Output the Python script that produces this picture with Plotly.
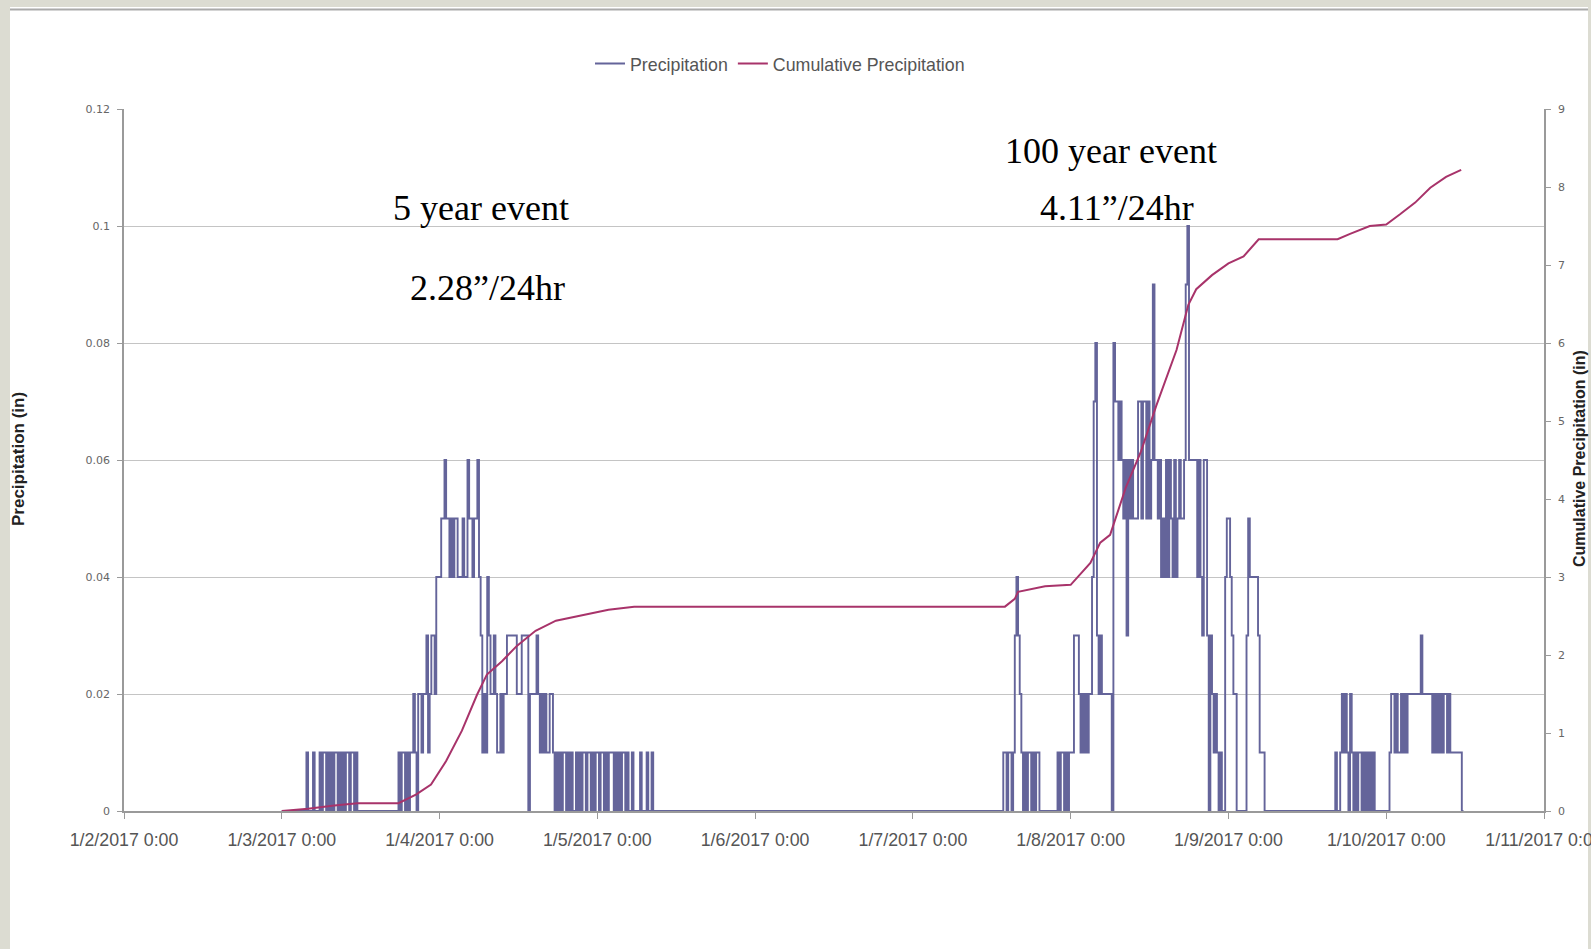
import plotly.graph_objects as go
import pandas as pd

# ---------------- data ----------------
# Precipitation, hundredths of an inch per 15-minute step, starting 1/3/2017 0:00.
# Each 4-digit group is one hour; hex digit 'A' = 10 hundredths.
precip_start = "2017-01-03 00:00"
precip_step = "15min"
precip_jan03 = ("0000 0000 0000 0001 0001 0001 0110 1010 1101 0101 1011 0100 "
                "0000 0000 0000 0000 0000 0001 0110 1011 2102 2122 3123 3244")
precip_jan04 = ("4556 5545 4554 4454 4655 4556 4312 1432 2321 1212 2333 3332 "
                "2233 3302 2223 2121 2112 2101 0101 1010 1001 0101 1011 0101")
precip_jan05 = ("1011 0101 1101 0101 1010 0100 0010 0010 0100 0000 0000 0000 "
                "0000 0000 0000 0000 0000 0000 0000 0000 0000 0000 0000 0000")
precip_jan06 = ("0000 0000 0000 0000 0000 0000 0000 0000 0000 0000 0000 0000 "
                "0000 0000 0000 0000 0000 0000 0000 0000 0000 0000 0000 0000")
precip_jan07 = ("0000 0000 0000 0000 0000 0000 0000 0000 0000 0000 0000 0000 "
                "0000 0001 1011 0134 3210 1011 0101 1000 0000 0000 1011 0101")
precip_jan08 = ("1133 3212 1212 2478 3232 2222 2087 7676 5636 5655 5775 7757 "
                "5696 6564 5464 6546 4565 569A 6666 6464 3663 0321 2101 0045")
precip_jan09 = ("5432 2000 0003 5444 4431 1100 0000 0000 0000 0000 0000 0000 "
                "0000 0000 0000 0000 0100 1212 1021 0101 1010 1010 1000 0000")
precip_jan10 = ("0012 2121 1212 1222 2222 2322 2222 1212 1212 2121 1111 1100")

# Cumulative precipitation (in)
cum_times = ["2017-01-03 00:00", "2017-01-03 04:00", "2017-01-03 08:00", "2017-01-03 11:30",
             "2017-01-03 17:45", "2017-01-03 20:24", "2017-01-03 22:42", "2017-01-04 01:00",
             "2017-01-04 03:24", "2017-01-04 05:42", "2017-01-04 07:12", "2017-01-04 09:30",
             "2017-01-04 11:48", "2017-01-04 14:36", "2017-01-04 17:42", "2017-01-04 21:06",
             "2017-01-05 01:42", "2017-01-05 05:36", "2017-01-05 09:00", "2017-01-07 14:00",
             "2017-01-07 15:30", "2017-01-07 16:00", "2017-01-07 20:06", "2017-01-08 00:00",
             "2017-01-08 01:24", "2017-01-08 03:00", "2017-01-08 04:30", "2017-01-08 06:00",
             "2017-01-08 08:24", "2017-01-08 10:42", "2017-01-08 13:00", "2017-01-08 16:06",
             "2017-01-08 17:54", "2017-01-08 19:06", "2017-01-08 21:30", "2017-01-09 00:00",
             "2017-01-09 02:18", "2017-01-09 04:36", "2017-01-09 16:36", "2017-01-09 18:30",
             "2017-01-09 21:30", "2017-01-10 00:00", "2017-01-10 02:06", "2017-01-10 04:24",
             "2017-01-10 06:42", "2017-01-10 09:06", "2017-01-10 11:24"]
cum_values = [0.00, 0.03, 0.07, 0.10, 0.10, 0.21, 0.34, 0.64, 1.03, 1.49, 1.75, 1.92,
              2.12, 2.31, 2.44, 2.50, 2.58, 2.62, 2.62, 2.62, 2.72, 2.81, 2.88, 2.90,
              3.03, 3.18, 3.44, 3.54, 4.15, 4.61, 5.19, 5.91, 6.49, 6.69, 6.87, 7.02,
              7.11, 7.33, 7.33, 7.40, 7.50, 7.52, 7.65, 7.80, 7.99, 8.13, 8.22]

x_tick_dates = ["2017-01-02", "2017-01-03", "2017-01-04", "2017-01-05", "2017-01-06",
                "2017-01-07", "2017-01-08", "2017-01-09", "2017-01-10", "2017-01-11"]
x_tick_labels = ["1/2/2017 0:00", "1/3/2017 0:00", "1/4/2017 0:00", "1/5/2017 0:00",
                 "1/6/2017 0:00", "1/7/2017 0:00", "1/8/2017 0:00", "1/9/2017 0:00",
                 "1/10/2017 0:00", "1/11/2017 0:00"]

# ---------------- build ----------------
digits = "".join([precip_jan03, precip_jan04, precip_jan05, precip_jan06,
                  precip_jan07, precip_jan08, precip_jan09, precip_jan10]).replace(" ", "")
precip_values = [int(c, 16) / 100 for c in digits]
precip_times = pd.date_range(precip_start, periods=len(precip_values), freq=precip_step)

W, H = 1591, 949
L, R, T, B = 124, 1544, 109, 811

def px(x):
    return (x - L) / (R - L)

def py(y):
    return (B - y) / (B - T)

fig = go.Figure()
fig.add_trace(go.Scatter(x=precip_times, y=precip_values, name="Precipitation",
                         mode="lines", line=dict(color="#64649A", width=1.9, shape="hv"),
                         yaxis="y"))
fig.add_trace(go.Scatter(x=pd.to_datetime(cum_times), y=cum_values,
                         name="Cumulative Precipitation", mode="lines",
                         line=dict(color="#A8336A", width=2), yaxis="y2"))

axis_gray = "#9a9a9a"
fig.update_layout(
    width=W, height=H,
    margin=dict(l=L, r=W - R, t=T, b=H - B, autoexpand=False),
    paper_bgcolor="white", plot_bgcolor="white",
    showlegend=True,
    legend=dict(orientation="h", x=px(780), xanchor="center", y=py(64), yanchor="middle",
                font=dict(family="Liberation Sans", size=17.8, color="#555"),
                bgcolor="rgba(0,0,0,0)", itemwidth=30, tracegroupgap=0),
    xaxis=dict(type="date", range=["2017-01-02", "2017-01-11"],
               tickvals=x_tick_dates, ticktext=x_tick_labels,
               ticks="outside", ticklen=6, tickcolor=axis_gray,
               showline=True, linecolor=axis_gray, linewidth=1.5,
               showgrid=False, zeroline=False, ticklabelstandoff=6,
               ticklabeloverflow="allow",
               tickfont=dict(family="Liberation Sans", size=17.8, color="#555")),
    yaxis=dict(range=[0, 0.12], dtick=0.02, ticks="outside", ticklen=5, tickcolor=axis_gray,
               showline=True, linecolor=axis_gray, linewidth=1.5,
               showgrid=True, gridcolor="#c4c4c4", gridwidth=1.2, zeroline=False,
               ticklabelstandoff=5,
               tickfont=dict(family="DejaVu Sans", size=11, color="#666")),
    yaxis2=dict(range=[0, 9], dtick=1, overlaying="y", side="right",
                ticks="outside", ticklen=5, tickcolor=axis_gray,
                showline=True, linecolor=axis_gray, linewidth=1.5,
                showgrid=False, zeroline=False, ticklabelstandoff=5,
                tickfont=dict(family="DejaVu Sans", size=11, color="#666")),
)

# slide frame (beige border strips and top rule)
beige = "#DCDCD2"
fig.add_shape(type="rect", xref="paper", yref="paper", x0=px(0), x1=px(10), y0=py(H), y1=py(0),
              fillcolor=beige, line_width=0, layer="below")
fig.add_shape(type="rect", xref="paper", yref="paper", x0=px(0), x1=px(W), y0=py(7), y1=py(0),
              fillcolor=beige, line_width=0, layer="below")
fig.add_shape(type="rect", xref="paper", yref="paper", x0=px(1588), x1=px(W), y0=py(H), y1=py(0),
              fillcolor=beige, line_width=0, layer="below")
fig.add_shape(type="line", xref="paper", yref="paper", x0=px(10), x1=px(1588), y0=py(9.5), y1=py(9.5),
              line=dict(color="#aaaaaa", width=2), layer="below")

# axis titles
fig.add_annotation(text="<b>Precipitation (in)</b>", xref="paper", yref="paper",
                   x=px(18), y=py(459), xanchor="center", yanchor="middle",
                   textangle=-90, showarrow=False,
                   font=dict(family="Liberation Sans", size=17, color="#222"))
fig.add_annotation(text="<b>Cumulative Precipitation (in)</b>", xref="paper", yref="paper",
                   x=px(1579), y=py(459), xanchor="center", yanchor="middle",
                   textangle=-90, showarrow=False,
                   font=dict(family="Liberation Sans", size=16, color="#222"))

# event labels
serif = dict(family="Liberation Serif", size=36, color="black")
for txt, cx, cy in [("5 year event", 481, 208), ("2.28\u201d/24hr", 487, 288),
                    ("100 year event", 1111, 151), ("4.11\u201d/24hr", 1117, 208)]:
    fig.add_annotation(text=txt, xref="paper", yref="paper", x=px(cx), y=py(cy),
                       xanchor="center", yanchor="middle", showarrow=False, font=serif)

fig.write_html("out.html", config={"displayModeBar": False},
               post_script="document.body.style.margin='0';document.body.style.overflow='hidden';")
